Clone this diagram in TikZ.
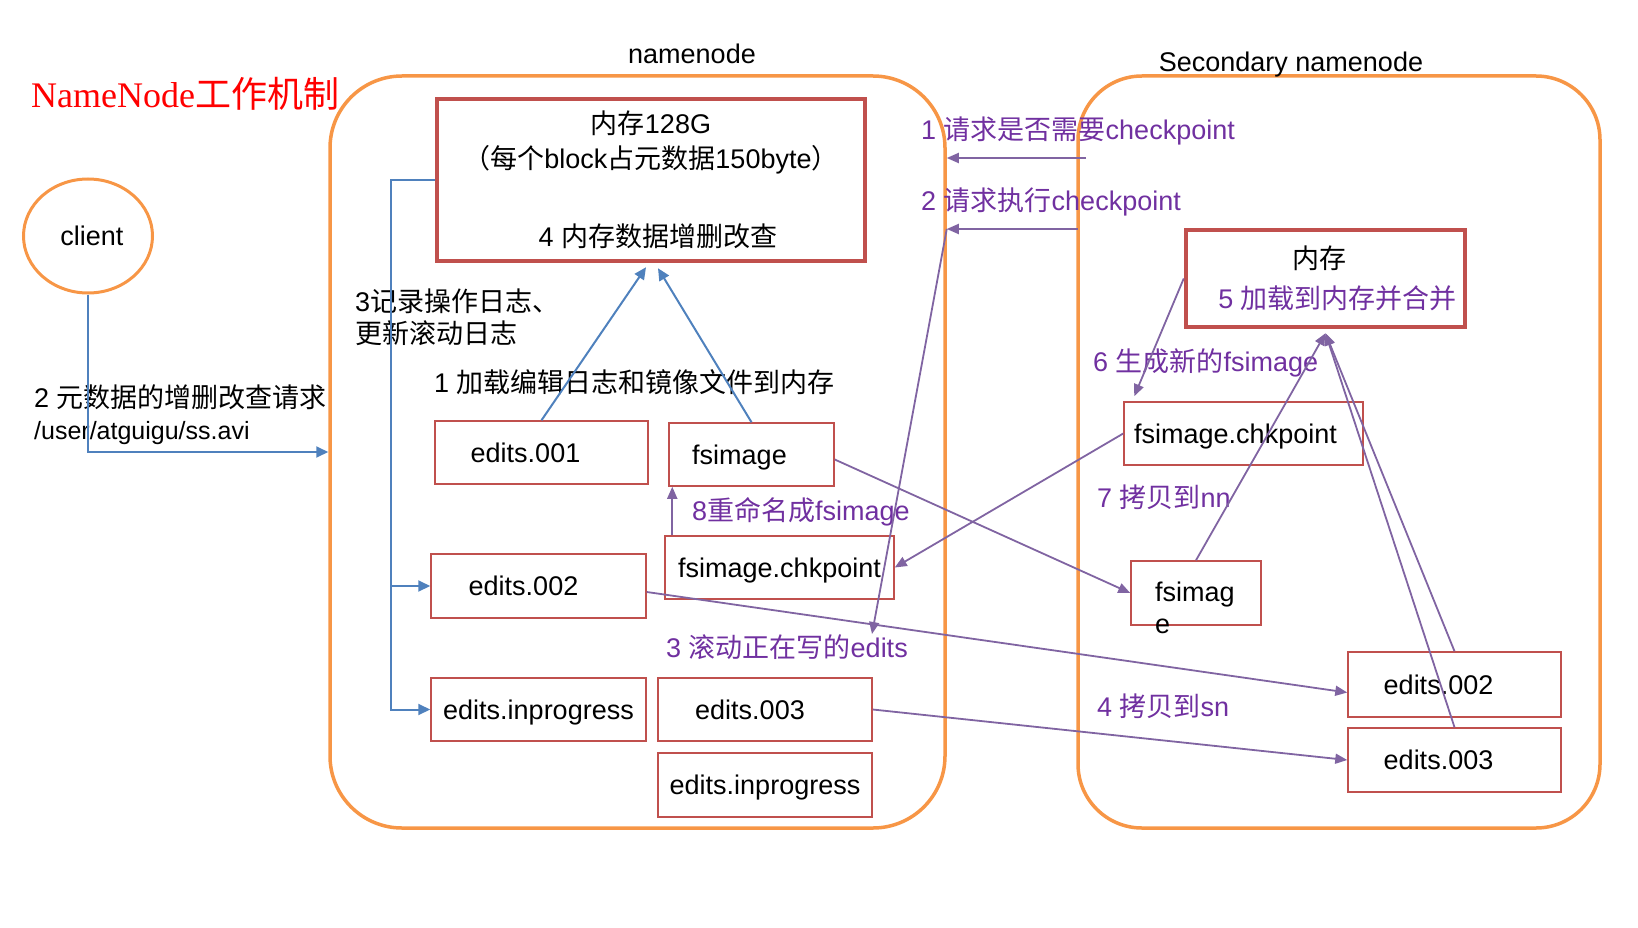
\documentclass[tikz,border=0pt]{standalone}
\usepackage{fontspec}
\setmainfont{Liberation Sans}
\newfontfamily\zh{Noto Sans CJK SC}
\newfontfamily\titleserif{Liberation Serif}
\usetikzlibrary{arrows.meta,shapes.geometric}
\definecolor{nodeorange}{HTML}{F79646}
\definecolor{boxred}{HTML}{C0504D}
\definecolor{linkblue}{HTML}{4F81BD}
\definecolor{stepviolet}{HTML}{8064A2}
\definecolor{textviolet}{HTML}{7030A0}

\begin{document}
\begin{tikzpicture}[x=1pt, y=-1pt,
    every node/.style={font=\fontsize{27}{32}\selectfont},
    machine/.style={draw=nodeorange, line width=3.5pt, rounded corners=#1, inner sep=0},
    membox/.style={draw=boxred, line width=4.5pt, inner sep=0, align=center},
    filebox/.style={draw=boxred, line width=1.5pt, inner sep=0, minimum height=63pt, text depth=0pt},
    lbl/.style={inner sep=0, anchor=west, align=left},
    note/.style={lbl, text=textviolet},
    bluearrow/.style={draw=linkblue, line width=2pt, -{Triangle[length=12pt,width=11pt]}},
    violetarrow/.style={draw=stepviolet, line width=1.8pt, -{Triangle[length=12pt,width=10pt]}}]

        \useasboundingbox (0,0) rectangle (1638,928);

        % the two machines
        \node[machine=72pt, minimum width=615pt, minimum height=752pt] (nn) at (637.5,452) {};
        \node[] (nnname) at (692,54) {namenode};
        \node[machine=64pt, minimum width=522pt, minimum height=752pt] (sn) at (1339,452) {};
        \node[] (snname) at (1291,65) {Secondary namenode};

        \node[lbl, text=red, font=\fontsize{36}{40}\selectfont] (title) at (31,94) {{\titleserif NameNode}{\zh 工作机制}};
        \node[draw=nodeorange, line width=3pt, ellipse, minimum width=129pt, minimum height=114pt, inner sep=0] (client) at (88,236) {\hspace*{8pt}client};

        % namenode side
        \node[membox, minimum width=428pt, minimum height=162pt, font=\fontsize{27}{35}\selectfont] (mem) at (651,180)
            {{\zh 内存}128G\\{\zh （每个}block{\zh 占元数据}150byte{\zh ）}\\[43pt]\hspace*{14pt}4 {\zh 内存数据增删改查}};
        \node[filebox, minimum width=213pt] (e001) at (541.5,452.5) {edits.001\hspace*{32pt}};
        \node[filebox, minimum width=165pt] (fsimg) at (751.5,454.5) {fsimage\hspace*{24pt}};
        \node[filebox, minimum width=229pt] (fchk) at (779.5,567.5) {fsimage.chkpoint};
        \node[filebox, minimum width=215pt, minimum height=64pt] (e002) at (538.5,586) {edits.002\hspace*{30pt}};
        \node[filebox, minimum width=215pt] (einp) at (538.5,709.5) {edits.inprogress};
        \node[filebox, minimum width=214pt] (e003) at (765,709.5) {edits.003\hspace*{30pt}};
        \node[filebox, minimum width=214pt, minimum height=64pt] (einp2) at (765,785) {edits.inprogress};

        % secondary namenode side
        \node[membox, minimum width=279pt, minimum height=97pt, font=\fontsize{27}{40}\selectfont] (smem) at (1325.5,278.5)
            {{\zh 内存}\hspace*{12pt}\\\hspace*{24pt}\textcolor{textviolet}{5 {\zh 加载到内存并合并}}};
        \node[filebox, minimum width=239pt] (sfchk) at (1243.5,433.5) {fsimage.chkpoint\hspace*{16pt}};
        \node[filebox, minimum width=130pt, minimum height=64pt] (sfimg) at (1196,593) {};
        \node[lbl] (sfimgtext) at (1155,608) {fsimag\\e};
        \node[filebox, minimum width=213pt, minimum height=65pt] (se002) at (1454.5,684.5) {edits.002\hspace*{32pt}};
        \node[filebox, minimum width=213pt, minimum height=64pt] (se003) at (1454.5,760) {edits.003\hspace*{32pt}};

        % labels
        \node[lbl] (reqtext) at (34,415) {2 {\zh 元数据的增删改查请求}\\{\fontsize{25}{30}\selectfont /user/atguigu/ss.avi}};
        \node[lbl] (logtext) at (355,317) {3{\zh 记录操作日志、}\\{\zh 更新滚动日志}};
        \node[lbl] (loadtext) at (434,382) {1 {\zh 加载编辑日志和镜像文件到内存}};
        \node[note] (asktext) at (921,131) {1 {\zh 请求是否需要}checkpoint};
        \node[note] (runtext) at (921,202) {2 {\zh 请求执行}checkpoint};
        \node[note] (renametext) at (692,512) {8{\zh 重命名成}fsimage};
        \node[note] (rolltext) at (666,647) {3 {\zh 滚动正在写的}edits};
        \node[note] (newtext) at (1093,363) {6 {\zh 生成新的}fsimage};
        \node[note] (tonntext) at (1097,497) {7 {\zh 拷贝到}nn};
        \node[note] (tosntext) at (1097,706) {4 {\zh 拷贝到}sn};

        % blue: client request, logging, loading
        \draw[bluearrow] (client.south) |- (nn.west);
        \coordinate (bus) at (391,180);
        \draw[bluearrow] (mem.west) -- (bus) |- (einp.west);
        \draw[bluearrow] (bus |- e002.west) -- (e002.west);
        \draw[bluearrow] (e001.north) -- ([xshift=-5pt, yshift=-4pt]mem.south);
        \draw[bluearrow] (fsimg.north) -- ([xshift=7pt, yshift=-5pt]mem.south);

        % violet: checkpoint steps
        \coordinate (ask) at (1086,158);
        \draw[violetarrow] (ask) -- (ask -| nn.east);
        \coordinate (run) at (1078,229);
        \draw[violetarrow] (run) -- (run -| nn.east);
        \coordinate (roll) at (872,634);
        \draw[violetarrow] (run -| nn.east) -- (roll);
        \draw[violetarrow] ([yshift=-6pt]e002.east) -- ([yshift=-8pt]se002.west);
        \draw[violetarrow] (e003.east) -- (se003.west);
        \draw[violetarrow] ([yshift=-5pt]fsimg.east) -- (sfimg.west);
        \draw[violetarrow] (sfimg.north) -- ([yshift=-4pt]smem.south);
        \draw[violetarrow] (se002.north) -- ([yshift=-4pt]smem.south);
        \draw[violetarrow] (se003.north) -- ([yshift=-4pt]smem.south);
        \draw[violetarrow] (smem.west) -- ([xshift=11pt, yshift=5pt]sfchk.north west);
        \draw[violetarrow] (sfchk.west) -- (fchk.east);
        \draw[violetarrow] ([xshift=8pt]fchk.north west) -- ([xshift=4pt]fsimg.south west);

\end{tikzpicture}
\end{document}
